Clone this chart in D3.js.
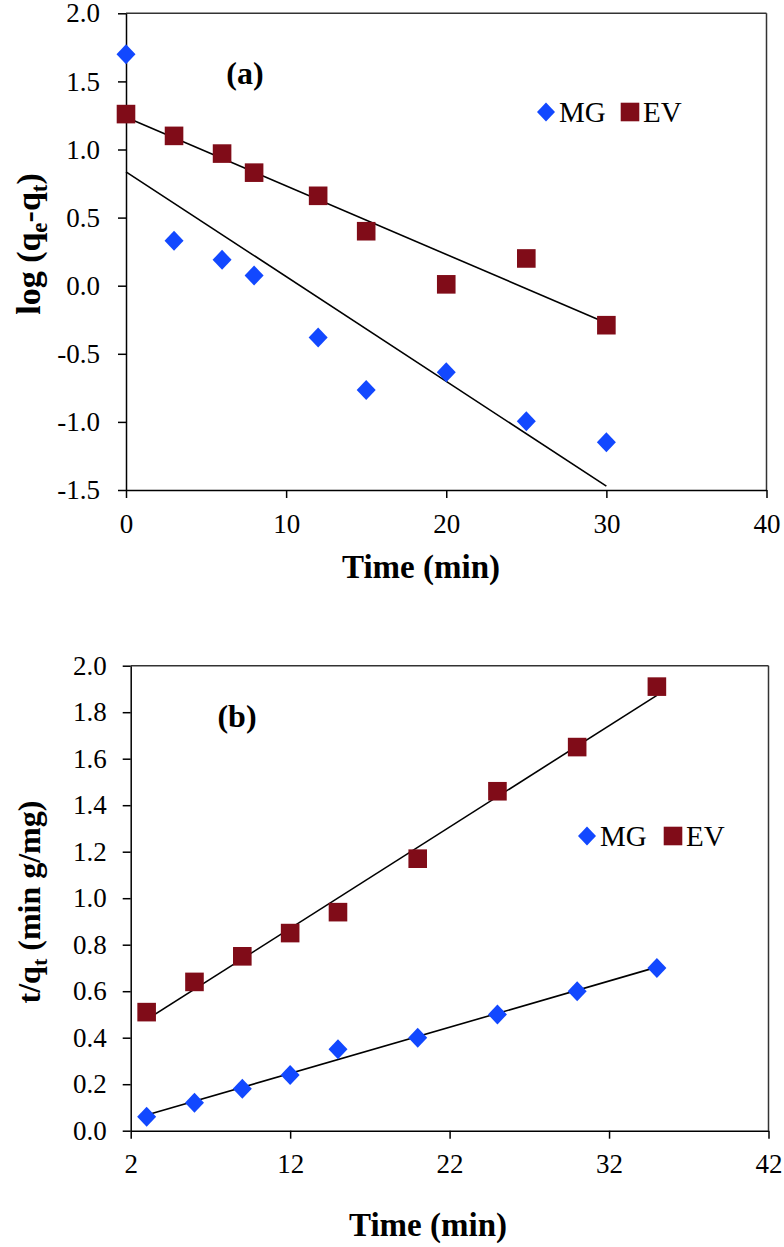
<!DOCTYPE html>
<html><head><meta charset="utf-8">
<script src="https://cdn.jsdelivr.net/npm/d3@7"></script>
<style>
body{margin:0;background:#fff}
text{font-family:"Liberation Serif","Times New Roman",serif;fill:#000}
</style>
</head><body>
<svg id="chart" width="784" height="1247" xmlns="http://www.w3.org/2000/svg"></svg>
<script>
// ---------- DATA ----------
const seriesNames = ["MG", "EV"];
// Panel (a): pseudo-first-order
const timeA = [0, 3, 6, 8, 12, 15, 20, 25, 30];
const mgA = [1.70, 0.33, 0.19, 0.075, -0.38, -0.765, -0.635, -0.995, -1.15];
const evA = [1.26, 1.10, 0.97, 0.83, 0.66, 0.40, 0.01, 0.20, -0.29];
const xTicksA = [0, 10, 20, 30, 40];
const yTicksA = [-1.5, -1.0, -0.5, 0.0, 0.5, 1.0, 1.5, 2.0];
// Panel (b): pseudo-second-order
const timeB = [3, 6, 9, 12, 15, 20, 25, 30, 35];
const mgB = [0.06, 0.12, 0.18, 0.24, 0.35, 0.40, 0.50, 0.60, 0.70];
const evB = [0.51, 0.64, 0.75, 0.85, 0.94, 1.17, 1.46, 1.65, 1.91];
const xTicksB = [2, 12, 22, 32, 42];
const yTicksB = [0.0, 0.2, 0.4, 0.6, 0.8, 1.0, 1.2, 1.4, 1.6, 1.8, 2.0];

// ---------- STYLE ----------
const BLUE = "#1248ff";
const RED = "#800c18";

const svg = d3.select("#chart");

function linreg(xs, ys) {
  const mx = d3.mean(xs), my = d3.mean(ys);
  let sxy = 0, sxx = 0;
  xs.forEach((x, i) => { sxy += (x - mx) * (ys[i] - my); sxx += (x - mx) * (x - mx); });
  const m = sxy / sxx;
  return { m, b: my - m * mx };
}

const diamondPath = (w, h) => `M0,${-h}L${w},0L0,${h}L${-w},0Z`;
const squarePath = s => `M${-s},${-s}H${s}V${s}H${-s}Z`;

function drawPanel(cfg) {
  const g = svg.append("g");
  const x = d3.scaleLinear().domain(cfg.xDomain).range(cfg.xRange);
  const y = d3.scaleLinear().domain(cfg.yDomain).range(cfg.yRange);

  // frame (top & right)
  g.append("line").attr("x1", x.range()[0]).attr("x2", x.range()[1])
    .attr("y1", y.range()[1]).attr("y2", y.range()[1])
    .attr("stroke", "#333").attr("stroke-width", 1.5);
  g.append("line").attr("x1", x.range()[1]).attr("x2", x.range()[1])
    .attr("y1", y.range()[0]).attr("y2", y.range()[1])
    .attr("stroke", "#333").attr("stroke-width", 1.5);

  const fmt = d => d.toFixed(1);
  const ya = g.append("g").attr("transform", `translate(${x.range()[0]},0)`)
    .call(d3.axisLeft(y).tickValues(cfg.yTicks).tickFormat(fmt)
      .tickSize(8).tickSizeOuter(0).tickPadding(cfg.yPad));
  const xa = g.append("g").attr("transform", `translate(0,${y.range()[0]})`)
    .call(d3.axisBottom(x).tickValues(cfg.xTicks).tickFormat(d3.format("d"))
      .tickSize(8).tickSizeOuter(0).tickPadding(15.5));
  [ya, xa].forEach(a => {
    a.attr("font-family", "Liberation Serif").attr("font-size", 27);
    a.selectAll("path,line").attr("stroke", "#000").attr("stroke-width", 1.5);
    a.selectAll("text").attr("font-size", 27)
      .style("font-family", "'Liberation Serif', serif");
  });

  // trend lines (least-squares fits of the data)
  cfg.series.forEach(s => {
    const r = linreg(cfg.xs, s.ys);
    const x0 = d3.min(cfg.xs), x1 = d3.max(cfg.xs);
    g.append("line")
      .attr("x1", x(x0)).attr("y1", y(r.m * x0 + r.b))
      .attr("x2", x(x1)).attr("y2", y(r.m * x1 + r.b))
      .attr("stroke", "#000").attr("stroke-width", 1.6);
  });

  // markers
  cfg.series.forEach(s => {
    const pts = g.append("g").selectAll("path").data(cfg.xs.map((xv, i) => [xv, s.ys[i]]))
      .join("path")
      .attr("transform", d => `translate(${x(d[0])},${y(d[1])})`)
      .attr("fill", s.color);
    if (s.shape === "diamond") pts.attr("d", diamondPath(9.5, 10));
    else pts.attr("d", squarePath(9.3));
  });

  // legend
  const lg = g.append("g").attr("transform", `translate(${cfg.legend[0]},${cfg.legend[1]})`);
  lg.append("path").attr("d", diamondPath(9, 9.5)).attr("fill", BLUE);
  lg.append("text").attr("x", 13).attr("y", 9.5).attr("font-size", 29).text(seriesNames[0]);
  lg.append("path").attr("d", squarePath(9.3)).attr("fill", RED)
    .attr("transform", `translate(${cfg.legendGap},0)`);
  lg.append("text").attr("x", cfg.legendGap + 13).attr("y", 9.5).attr("font-size", 29).text(seriesNames[1]);

  // panel tag
  g.append("text").attr("x", cfg.tag[0]).attr("y", cfg.tag[1])
    .attr("text-anchor", "middle").attr("font-size", 32).attr("font-weight", "bold")
    .text(cfg.tagText);

  // x title
  g.append("text").attr("x", cfg.xTitle[0]).attr("y", cfg.xTitle[1])
    .attr("text-anchor", "middle").attr("font-size", 33).attr("font-weight", "bold")
    .text("Time (min)");

  // y title
  const yt = g.append("text")
    .attr("transform", `translate(${cfg.yTitle[0]},${cfg.yTitle[1]}) rotate(-90)`)
    .attr("text-anchor", "middle").attr("font-size", cfg.yTitleSize).attr("font-weight", "bold");
  cfg.yTitleText(yt, cfg.yTitleSize);
  return g;
}

function sub(t, s, fs) {
  t.append("tspan").attr("font-size", Math.round(fs * 0.68)).attr("dy", fs * 0.22).text(s);
}

drawPanel({
  xDomain: [0, 40], xRange: [126, 766.5],
  yDomain: [-1.5, 2.0], yRange: [490, 13.3],
  xTicks: xTicksA, yTicks: yTicksA, yPad: 18,
  xs: timeA,
  series: [
    { ys: mgA, color: BLUE, shape: "diamond" },
    { ys: evA, color: RED, shape: "square" }
  ],
  legend: [546, 112], legendGap: 84,
  tag: [245, 84], tagText: "(a)",
  xTitle: [421, 578], yTitle: [40, 244], yTitleSize: 34,
  yTitleText: (t, fs) => {
    t.append("tspan").text("log (q");
    sub(t, "e", fs);
    t.append("tspan").attr("dy", -fs * 0.22).text("-q");
    sub(t, "t", fs);
    t.append("tspan").attr("dy", -fs * 0.22).text(")");
  }
});

drawPanel({
  xDomain: [2, 42], xRange: [130.7, 768.5],
  yDomain: [0, 2.0], yRange: [1130.7, 665.7],
  xTicks: xTicksB, yTicks: yTicksB, yPad: 16,
  xs: timeB,
  series: [
    { ys: mgB, color: BLUE, shape: "diamond" },
    { ys: evB, color: RED, shape: "square" }
  ],
  legend: [587, 836], legendGap: 86,
  tag: [237, 727], tagText: "(b)",
  xTitle: [428, 1236], yTitle: [40, 902], yTitleSize: 32,
  yTitleText: (t, fs) => {
    t.append("tspan").text("t/q");
    sub(t, "t", fs);
    t.append("tspan").attr("dy", -fs * 0.22).text(" (min g/mg)");
  }
});
</script>
</body></html>
